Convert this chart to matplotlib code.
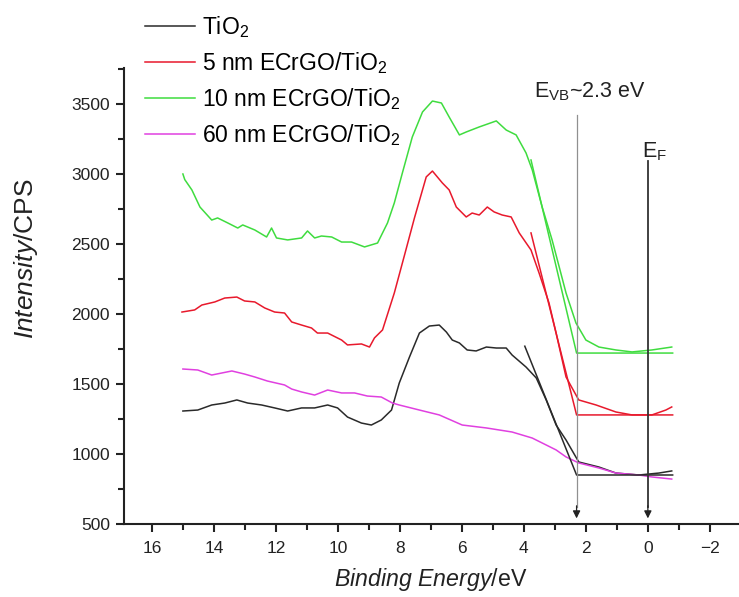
import matplotlib
matplotlib.use("Agg")
import matplotlib.pyplot as plt
from matplotlib.ticker import MultipleLocator

plt.rcParams['font.family'] = ['Liberation Sans', 'DejaVu Sans']
plt.rcParams['mathtext.fontset'] = 'custom'
plt.rcParams['mathtext.rm'] = 'Liberation Sans'
plt.rcParams['mathtext.it'] = 'Liberation Sans:italic'
plt.rcParams['mathtext.bf'] = 'Liberation Sans:bold'

# ---------------- data ----------------
tio2_x = [15.00, 14.52, 14.07, 13.65, 13.26, 12.91, 12.46, 12.04, 11.62, 11.17, 10.75, 10.33, 10.01,
          9.69, 9.24, 8.92, 8.60, 8.27, 8.02, 7.69, 7.37, 7.05, 6.73, 6.50, 6.31, 6.08, 5.83, 5.54,
          5.21, 4.89, 4.57, 4.38, 3.93, 3.60, 3.28, 2.96, 2.64, 2.23, 1.58, 1.03, 0.29, -0.36, -0.77]
tio2_y = [1307, 1314, 1350, 1364, 1386, 1364, 1350, 1329, 1307, 1329, 1329, 1350, 1329,
          1264, 1221, 1207, 1243, 1314, 1507, 1693, 1864, 1914, 1921, 1871, 1814, 1793, 1743, 1736,
          1764, 1757, 1757, 1707, 1621, 1543, 1386, 1207, 1100, 943, 907, 864, 850, 864, 879]

nm5_x = [15.03, 14.62, 14.39, 13.97, 13.65, 13.26, 13.01, 12.68, 12.36, 12.04, 11.72, 11.49, 11.17,
         10.85, 10.66, 10.33, 9.88, 9.69, 9.24, 8.98, 8.82, 8.56, 8.18, 7.85, 7.53, 7.15, 6.95, 6.63,
         6.41, 6.18, 5.86, 5.67, 5.44, 5.18, 4.96, 4.70, 4.41, 4.15, 3.77, 3.51, 3.19, 2.96, 2.64,
         2.23, 1.67, 1.03, 0.51, -0.13, -0.58, -0.77]
nm5_y = [2014, 2029, 2064, 2086, 2114, 2121, 2093, 2086, 2043, 2014, 2007, 1943, 1921,
         1900, 1864, 1864, 1814, 1779, 1786, 1764, 1829, 1886, 2150, 2421, 2686, 2979, 3021, 2936,
         2886, 2764, 2693, 2721, 2707, 2764, 2729, 2707, 2693, 2579, 2457, 2293, 2079, 1864, 1550,
         1386, 1350, 1300, 1279, 1279, 1314, 1336]

nm10_x = [15.00, 14.94, 14.71, 14.45, 14.07, 13.88, 13.55, 13.23, 13.07, 12.68, 12.30, 12.14, 11.98,
          11.62, 11.17, 10.98, 10.75, 10.53, 10.20, 9.88, 9.56, 9.14, 8.72, 8.40, 8.18, 7.92, 7.60,
          7.27, 6.95, 6.66, 6.41, 6.08, 5.86, 5.44, 4.89, 4.57, 4.25, 3.93, 3.73, 3.41, 3.09, 2.86,
          2.64, 2.32, 2.00, 1.58, 1.03, 0.51, -0.13, -0.77]
nm10_y = [3000, 2960, 2886, 2764, 2671, 2686, 2650, 2614, 2636, 2600, 2550, 2614, 2543,
          2529, 2543, 2593, 2543, 2557, 2550, 2514, 2514, 2479, 2507, 2650, 2793, 3007, 3264,
          3443, 3521, 3507, 3407, 3279, 3300, 3336, 3379, 3314, 3279, 3150, 3029, 2764, 2529, 2336,
          2150, 1936, 1814, 1764, 1743, 1729, 1743, 1764]

nm60_x = [15.00, 14.52, 14.07, 13.42, 13.01, 12.68, 12.27, 11.72, 11.49, 11.17, 10.75, 10.33, 9.88,
          9.46, 9.05, 8.60, 8.24, 8.02, 7.37, 6.73, 5.99, 5.21, 4.38, 3.73, 2.96, 2.64, 2.23, 1.58,
          1.03, 0.29, -0.13, -0.77]
nm60_y = [1607, 1600, 1564, 1593, 1571, 1550, 1521, 1493, 1464, 1443, 1421, 1457, 1436,
          1436, 1414, 1407, 1364, 1350, 1314, 1279, 1207, 1186, 1157, 1114, 1029, 979, 936, 900,
          864, 850, 836, 821]

# linear extrapolation lines (edge fit + baseline)
fit_tio2_x = [3.97, 2.30, -0.80]
fit_tio2_y = [1770, 850, 850]
fit_5_x = [3.77, 2.30, -0.80]
fit_5_y = [2579, 1279, 1279]
fit_10_x = [3.77, 2.30, -0.80]
fit_10_y = [3100, 1721, 1721]

evb = 2.3
ef = 0.0
evb_top = 3420
ef_top = 3090
arrow_bottom = 540

labels = ['TiO$_2$', '5 nm ECrGO/TiO$_2$', '10 nm ECrGO/TiO$_2$', '60 nm ECrGO/TiO$_2$']
colors = ['#2a2a2a', '#e8192c', '#3fdc3f', '#e040e0']

# ---------------- figure ----------------
fig = plt.figure(figsize=(7.39, 5.97), dpi=100)
ax = fig.add_axes([124/739, 73/597, 615/739, 456/597])

lw = 1.1
h1, = ax.plot(tio2_x, tio2_y, color=colors[0], lw=lw, label=labels[0])
h2, = ax.plot(nm5_x, nm5_y, color=colors[1], lw=lw, label=labels[1])
h3, = ax.plot(nm10_x, nm10_y, color=colors[2], lw=lw, label=labels[2])
h4, = ax.plot(nm60_x, nm60_y, color=colors[3], lw=lw, label=labels[3])

ax.plot(fit_tio2_x, fit_tio2_y, color=colors[0], lw=lw)
ax.plot(fit_5_x, fit_5_y, color=colors[1], lw=lw)
ax.plot(fit_10_x, fit_10_y, color=colors[2], lw=lw)

# vertical markers
ax.plot([evb, evb], [evb_top, arrow_bottom + 80], color='#909090', lw=0.9)
ax.plot([ef, ef], [ef_top, arrow_bottom + 80], color='#333333', lw=1.3)
for xv in (evb, ef):
    ax.annotate('', xy=(xv, arrow_bottom), xytext=(xv, arrow_bottom + 90),
                arrowprops=dict(arrowstyle='-|>', color='#222222', lw=0.9,
                                mutation_scale=11, shrinkA=0, shrinkB=0))

ax.text(3.67, 3545, 'E$_{\\mathrm{VB}}$~2.3 eV', fontsize=15.5, color='#222222',
        ha='left', va='baseline')
ax.text(0.2, 3115, 'E$_{\\mathrm{F}}$', fontsize=15.5, color='#222222',
        ha='left', va='baseline')

ax.set_xlim(16.9, -2.94)
ax.set_ylim(500, 3757)

for s in ('top', 'right'):
    ax.spines[s].set_visible(False)
for s in ('left', 'bottom'):
    ax.spines[s].set_linewidth(1.5)
    ax.spines[s].set_color('#222222')

ax.xaxis.set_major_locator(MultipleLocator(2))
ax.xaxis.set_minor_locator(MultipleLocator(1))
ax.yaxis.set_major_locator(MultipleLocator(500))
ax.yaxis.set_minor_locator(MultipleLocator(250))
ax.tick_params(which='major', direction='out', length=6, width=1.5, colors='#222222',
               labelsize=12.5)
ax.tick_params(axis='x', which='major', pad=6)
ax.tick_params(axis='y', which='major', pad=4)
ax.tick_params(which='minor', direction='out', length=4, width=1.5, colors='#222222')

ax.set_xlabel('$\\it{Binding\\ Energy}$/eV', fontsize=16.7, color='#222222')
ax.set_ylabel('$\\it{Intensity}$/CPS', fontsize=19, color='#222222')
ax.xaxis.set_label_coords(0.499, -0.092)
ax.yaxis.set_label_coords(-0.137, 0.581)

fig.legend(handles=[h1, h2, h3, h4], loc='upper left', bbox_to_anchor=(145/739, 1 - 14/597),
           frameon=False, fontsize=16.5, handlelength=2.2, handletextpad=0.28,
           labelspacing=0.44, borderpad=0, borderaxespad=0)

fig.savefig('out.png', dpi=100, facecolor='white')
